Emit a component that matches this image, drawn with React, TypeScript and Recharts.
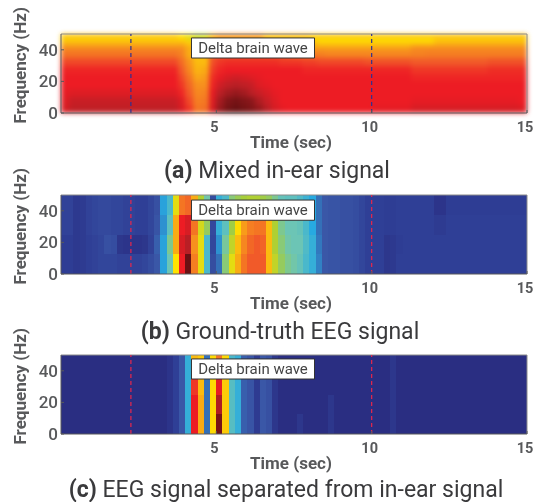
import React from "react";
import { Bar, BarChart, Cell, ReferenceArea, ReferenceLine, XAxis, YAxis } from "recharts";

// intensity levels (0-100), one array per frequency band, low band first
const mixedBandHz = [5, 5, 5, 5, 5, 5, 5, 5, 3, 3, 2, 2];
const mixed0 = [88,91,91,91,91,91,91,91,91,91,91,91,91,91,91,88,82,72,73,88,95,98,99,98,97,95,92,88,86,85,85,85,85,85,85,85,85,85,85,85,86,86,86,86,86,88,88,88,88,88,88,88,88,88,88,88,88,88,88,87];
const mixed1 = [87,90,90,90,90,90,90,90,90,90,90,90,90,90,90,87,80,70,71,87,94,97,98,97,96,93,90,87,85,85,85,85,85,85,85,85,85,85,85,85,85,85,85,85,85,86,86,86,86,86,86,86,86,86,86,86,86,86,86,85];
const mixed2 = [86,87,87,87,87,87,87,87,87,87,87,87,87,87,87,84,78,68,69,86,92,94,95,94,92,90,88,86,85,85,85,85,85,85,85,85,85,85,85,85,85,85,85,85,85,85,85,85,85,85,85,85,85,85,85,85,85,85,85,85];
const mixed3 = [85,85,85,85,85,85,85,85,85,85,85,85,85,85,85,82,75,66,66,84,89,91,92,91,90,87,86,85,85,85,85,85,85,85,85,85,85,85,85,85,85,85,85,85,85,85,85,85,85,85,85,85,85,85,85,85,85,85,85,85];
const mixed4 = [85,85,85,85,85,85,85,85,85,85,85,85,85,85,85,80,72,63,64,83,86,88,89,88,87,86,85,85,85,85,85,85,85,85,85,85,85,85,85,85,85,85,85,85,85,84,84,84,84,84,84,84,84,84,84,84,84,84,84,84];
const mixed5 = [84,84,84,84,84,84,84,84,84,84,84,84,84,84,84,78,68,61,62,81,84,85,85,85,85,85,85,85,85,85,85,84,84,84,84,84,84,84,84,84,84,84,84,84,84,82,82,82,82,82,82,82,82,82,82,83,83,83,83,83];
const mixed6 = [80,80,80,80,80,80,80,80,80,80,80,80,80,80,80,74,65,60,60,79,82,83,83,83,83,83,83,83,82,82,82,81,81,80,80,80,80,80,80,79,79,79,79,79,79,78,78,78,78,78,78,78,78,78,78,79,79,79,79,79];
const mixed7 = [72,72,72,72,72,72,72,72,72,72,72,72,72,72,72,69,62,58,60,76,78,78,78,78,78,78,77,77,76,74,72,71,70,69,68,68,68,68,68,68,68,68,68,68,68,69,69,70,70,70,70,70,70,70,70,70,70,70,70,70];
const mixed8 = [66,66,66,66,66,66,66,66,66,66,66,66,66,66,66,66,62,58,58,68,70,70,70,70,70,70,70,70,70,70,70,63,63,63,63,63,63,63,63,63,63,63,63,63,63,66,66,66,66,66,66,66,66,66,66,66,66,66,66,66];
const mixed9 = [60,60,60,60,60,60,60,60,60,60,60,60,60,60,60,60,58,54,55,62,64,64,64,64,64,64,64,60,60,60,60,60,60,57,57,57,57,57,57,57,57,57,57,57,57,57,57,57,60,60,60,60,60,60,60,60,60,60,60,60];
const mixed10 = [56,56,56,56,56,56,56,56,56,56,56,56,56,56,56,55,52,50,52,60,62,62,62,62,62,62,56,56,56,56,56,56,55,55,55,55,55,55,55,55,55,55,55,55,55,55,55,55,57,57,57,57,57,57,57,57,57,57,57,57];
const mixed11 = [60,60,60,60,60,60,60,60,60,60,60,60,60,60,60,56,52,47,47,62,68,68,68,68,68,68,62,62,62,62,62,62,60,60,60,60,60,60,60,60,60,60,60,60,60,60,60,60,60,60,60,60,60,60,60,60,60,60,60,60];
const mixedRows = [mixed0, mixed1, mixed2, mixed3, mixed4, mixed5, mixed6, mixed7, mixed8, mixed9, mixed10, mixed11];

const eegBandHz = [12.5, 12.5, 12.5, 12.5];
const truth0 = [7,7,5,6,8,9,10,10,10,9,9,9,9,10,12,15,24,35,55,85,99,70,52,30,12,18,40,52,62,72,78,78,78,60,48,42,38,36,34,30,27,20,15,14,14,13,13,12,10,8,8,8,4,5,8,8,8,8,8,8,8,8,8,8,8,8,8,8,8,8,8,8,8,8,8];
const truth1 = [7,7,5,6,8,9,10,13,12,4,3,3,3,4,9,16,24,38,62,88,92,66,52,30,10,22,37,48,60,68,75,78,76,60,46,40,36,35,35,31,27,19,15,14,14,13,13,12,10,8,8,8,4,5,7,8,8,8,8,8,8,8,8,8,8,8,8,8,8,8,8,8,8,8,8];
const truth2 = [9,9,5,6,9,10,11,11,10,10,9,9,8,8,10,14,22,33,62,85,88,72,50,42,11,27,33,44,56,64,70,72,72,60,46,38,35,35,34,30,25,18,15,14,14,13,13,12,10,8,8,8,7,7,8,8,8,8,8,8,6,6,8,8,8,8,8,8,8,8,8,8,8,8,8];
const truth3 = [9,9,5,6,9,10,11,11,10,10,9,9,8,8,10,13,24,30,52,72,75,62,46,36,12,27,30,40,43,45,46,46,44,42,38,34,33,33,31,28,25,18,15,14,14,13,13,12,10,8,8,8,7,7,8,8,8,8,8,8,3,3,7,7,7,7,7,7,7,7,7,7,7,7,7];
const truthRows = [truth0, truth1, truth2, truth3];

const separated0 = [0,0,0,0,0,0,0,0,0,0,0,0,0,0,0,0,0,3,8,15,27,85,62,18,56,98,58,32,27,16,14,6,15,13,4,0,0,0,4,0,0,0,0,4,0,0,0,0,0,0,0,0,0,4,0,0,0,0,0,0,0,0,0,0,0,0,0,0,0,0,0,0,0,0,0];
const separated1 = [0,0,0,0,0,0,0,0,0,0,0,0,0,0,0,0,0,3,8,15,27,85,62,18,56,93,58,32,27,16,14,6,15,13,4,0,0,0,0,0,0,0,0,4,0,0,0,0,0,0,0,0,0,4,0,0,0,0,0,0,0,0,0,0,0,0,0,0,0,0,0,0,0,0,0];
const separated2 = [0,0,0,0,0,0,0,0,0,0,0,0,0,0,0,0,0,3,8,15,27,82,60,18,56,86,58,32,27,16,14,6,15,13,4,0,0,0,0,0,0,0,0,0,0,0,0,0,0,0,0,0,0,4,0,0,0,0,0,0,0,0,0,0,0,0,0,0,0,0,0,0,0,0,0];
const separated3 = [0,0,0,0,0,0,0,0,0,0,0,0,0,0,0,0,0,3,8,15,27,60,58,18,56,72,56,30,27,16,14,6,15,13,4,0,0,0,0,0,0,0,0,0,0,0,0,0,0,0,0,0,0,4,0,0,0,0,0,0,0,0,0,0,0,0,0,0,0,0,0,0,0,0,0];
const separatedRows = [separated0, separated1, separated2, separated3];

const timeTicks = [5, 10, 15];
const freqTicks = [0, 20, 40];
const markerTimes = [2.25, 10];

const colorStops: [number, number[]][] = [
  [0, [42, 46, 130]],
  [8, [47, 63, 150]],
  [15, [58, 87, 167]],
  [25, [39, 170, 225]],
  [35, [108, 197, 181]],
  [45, [166, 206, 57]],
  [55, [255, 226, 0]],
  [65, [247, 148, 29]],
  [78, [241, 90, 41]],
  [85, [237, 28, 36]],
  [92, [185, 31, 37]],
  [100, [95, 15, 16]],
];

function levelColor(level: number) {
  for (let i = 1; i < colorStops.length; i++) {
    const [hi, c1] = colorStops[i];
    const [lo, c0] = colorStops[i - 1];
    if (level <= hi) {
      const f = (level - lo) / (hi - lo);
      const c = c0.map((v, k) => Math.round(v + (c1[k] - v) * f));
      return `rgb(${c[0]},${c[1]},${c[2]})`;
    }
  }
  return "rgb(95,15,16)";
}

const inkColor = "#58595b";
const fontFamily = "Roboto, sans-serif";

// the mixed panel is a smooth image in the reference, so its cells are softened together
const softCells = ".soft g:has(> .recharts-bar) { filter: blur(2.5px); }";

type PanelProps = {
  rows: number[][];
  bandHz: number[];
  top: number;
  markerColor: string;
  box: [number, number];
  soft?: boolean;
};

function Panel({ rows, bandHz, top, markerColor, box, soft }: PanelProps) {
  const binSec = 15 / rows[0].length;
  const binPx = 466 / rows[0].length;
  const data = rows[0].map((_, i) => {
    const row: Record<string, number> = { t: (i + 0.5) * binSec };
    bandHz.forEach((hz, b) => {
      row[`band${b}`] = hz;
    });
    return row;
  });
  // the library floors bar widths, so each cell is widened around its centre to close the seams
  const cellShape = (props: any) => (
    <rect
      x={props.x + props.width / 2 - binPx / 2}
      y={props.y}
      width={binPx + 0.6}
      height={props.height}
      fill={props.fill}
      shapeRendering="crispEdges"
    />
  );
  return (
    <div className={soft ? "soft" : undefined} style={{ position: "absolute", left: 0, top }}>
      <BarChart width={542} height={150} data={data} barSize={4} margin={{ top: 30, right: 15, bottom: 11, left: 0 }}>
        <XAxis
          dataKey="t"
          type="number"
          domain={[0, 15]}
          ticks={timeTicks}
          allowDataOverflow
          height={30}
          stroke={inkColor}
          tickSize={-3}
          tickMargin={12}
          tick={{ fill: inkColor, fontSize: 14.5, fontWeight: 700, fontFamily, dx: -2 }}
          label={{ value: "Time (sec)", position: "insideBottom", offset: -5, dx: -3, fill: inkColor, fontSize: 17, fontWeight: 700, fontFamily }}
        />
        <YAxis
          type="number"
          domain={[0, 50]}
          ticks={freqTicks}
          width={61}
          stroke={inkColor}
          tickSize={-3}
          tickMargin={6}
          tick={{ fill: inkColor, fontSize: 17, fontWeight: 500, fontFamily }}
          label={{ value: "Frequency (Hz)", angle: -90, position: "insideLeft", dx: 15, dy: 50, fill: inkColor, fontSize: 17, fontWeight: 700, fontFamily }}
        />
        {bandHz.map((_, b) => (
          <Bar key={b} dataKey={`band${b}`} stackId="cells" isAnimationActive={false} shape={cellShape}>
            {rows[b].map((level, i) => (
              <Cell key={i} fill={levelColor(level)} />
            ))}
          </Bar>
        ))}
        <ReferenceLine y={50} stroke="#8a8a8a" strokeWidth={1} />
        <ReferenceLine x={15} stroke="#8a8a8a" strokeWidth={1} />
        {markerTimes.map((t) => (
          <ReferenceLine key={t} x={t} stroke={markerColor} strokeWidth={1.2} strokeDasharray="4 3" />
        ))}
        <ReferenceArea
          x1={4.2}
          x2={8.16}
          y1={box[0]}
          y2={box[1]}
          zIndex={600}
          fill="#fff"
          fillOpacity={1}
          stroke="#333"
          strokeWidth={1}
          label={{ value: "Delta brain wave", position: "center", fill: "#444", fontSize: 15, fontFamily }}
        />
      </BarChart>
    </div>
  );
}

function Caption({ tag, text, center, y }: { tag: string; text: string; center: number; y: number }) {
  return (
    <div style={{ position: "absolute", left: center - 271, top: y - 12, width: 542, textAlign: "center", fontFamily, fontSize: 23, lineHeight: "24px", color: "#3a3a3c", whiteSpace: "nowrap" }}>
      <b>{tag}</b> {text}
    </div>
  );
}

export default function App() {
  return (
    <div style={{ position: "absolute", left: 0, top: 0, width: 542, height: 502, overflow: "hidden", background: "#fff", filter: "blur(0.4px)" }}>
      <style>{softCells}</style>
      <Panel rows={mixedRows} bandHz={mixedBandHz} top={4} markerColor="#2e3192" box={[47.5, 34.8]} soft />
      <Panel rows={truthRows} bandHz={eegBandHz} top={165} markerColor="#e8274b" box={[46.8, 34]} />
      <Panel rows={separatedRows} bandHz={eegBandHz} top={325} markerColor="#e8274b" box={[47.5, 34.8]} />
      <Caption tag="(a)" text="Mixed in-ear signal" center={277} y={171} />
      <Caption tag="(b)" text="Ground-truth EEG signal" center={280} y={332} />
      <Caption tag="(c)" text="EEG signal separated from in-ear signal" center={286} y={490} />
    </div>
  );
}
